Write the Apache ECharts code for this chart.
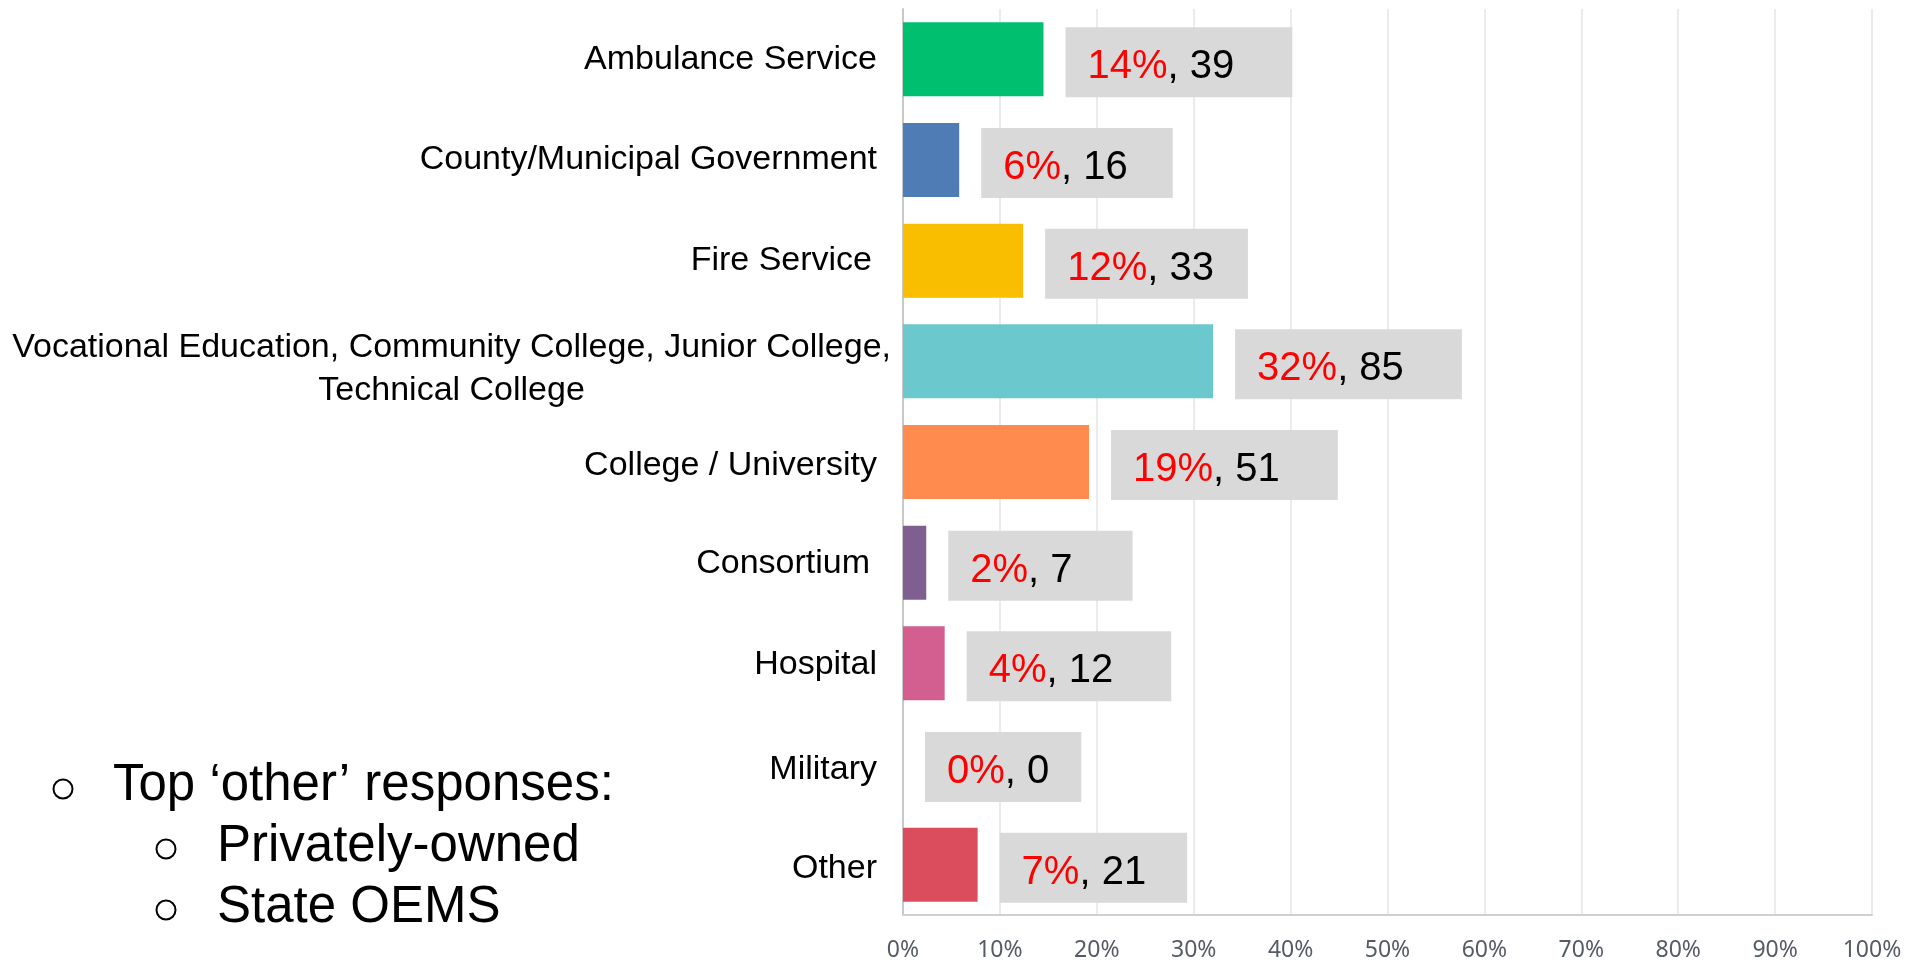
<!DOCTYPE html>
<html>
<head>
<meta charset="utf-8">
<script src="https://cdn.jsdelivr.net/npm/echarts@6/dist/echarts.min.js"></script>
<style>
  html, body { margin: 0; padding: 0; background: #fff; }
  #chart { width: 1914px; height: 962px; }
</style>
</head>
<body>
<div id="chart"></div>
<script>
// data
const categories = [
  "Ambulance Service",
  "County/Municipal Government",
  "Fire Service",
  "Vocational Education, Community College, Junior College,\nTechnical College",
  "College / University",
  "Consortium",
  "Hospital",
  "Military",
  "Other"
];
const shares = [14.5, 5.8, 12.4, 32.0, 19.2, 2.4, 4.3, 0, 7.7]; // bar length, %
const pctLabels = ["14%", "6%", "12%", "32%", "19%", "2%", "4%", "0%", "7%"];
const counts = [39, 16, 33, 85, 51, 7, 12, 0, 21];
const otherTitle = "Top \u2018other\u2019 responses:";
const otherResponses = ["Privately-owned", "State OEMS"];

const barColors = ["#00bf6f", "#507cb6", "#f9be00", "#6bc8cd", "#ff8b4f", "#7f5f90", "#d25f90", "#a6a6a6", "#db4d5c"];
// grey boxes are not all the same width
const boxPadRight = [58, 45, 34, 58, 58, 60, 58, 32, 41];
// small nudges of the category labels, [top, right]
const labelNudge = [[0, 0], [0, 0], [0, 5], [16, -14], [8, 0], [2, 7], [2, 0], [12, 0], [8, 0]];

const FONT = '"Liberation Sans", Arial, sans-serif';

const chart = echarts.init(document.getElementById("chart"));

const bulletGraphics = [
  { type: "circle", shape: { cx: 63, cy: 789, r: 9.5 }, style: { fill: "none", stroke: "#000", lineWidth: 2 } },
  {
    type: "text", x: 113, y: 786,
    style: { text: otherTitle, fontSize: 51, fontFamily: FONT, fill: "#000", verticalAlign: "middle" }
  }
];
otherResponses.forEach(function (t, i) {
  const y = 847 + i * 61;
  bulletGraphics.push({ type: "circle", shape: { cx: 166, cy: y + 2, r: 9.5 }, style: { fill: "none", stroke: "#000", lineWidth: 2 } });
  bulletGraphics.push({
    type: "text", x: 217, y: y,
    style: { text: t, fontSize: 51, fontFamily: FONT, fill: "#000", verticalAlign: "middle" }
  });
});

chart.setOption({
  backgroundColor: "#fff",
  animation: false,
  grid: {
    left: 903,
    right: 42,
    top: 9,
    bottom: 44
  },
  xAxis: {
    type: "value",
    min: 0,
    max: 100,
    interval: 10,
    axisLine: { show: true, lineStyle: { color: "#d0d0d0", width: 2 } },
    axisTick: { show: false },
    splitLine: { show: true, lineStyle: { color: "#ebebeb", width: 2 } },
    axisLabel: {
      formatter: "{value}%",
      color: "#555b66",
      fontSize: 23,
      fontFamily: "Noto Sans",
      margin: 24
    }
  },
  yAxis: {
    type: "category",
    inverse: true,
    data: categories.map(function (c, i) {
      const n = labelNudge[i];
      return { value: c, textStyle: { padding: [n[0], Math.max(n[1], 0), 0, 0] } };
    }),
    axisLine: { show: true, lineStyle: { color: "#c8c8c8", width: 2 } },
    axisTick: { show: false },
    axisLabel: {
      margin: 12,
      lineHeight: 43,
      formatter: function (v) {
        if (v.indexOf("\n") >= 0) {
          return v.split("\n").map(function (l) { return "{c|" + l + "}"; }).join("\n");
        }
        return "{r|" + v + "}";
      },
      rich: {
        r: { fontSize: 34, fontFamily: FONT, color: "#000", padding: [0, 14, 0, 0] },
        c: { fontSize: 34, fontFamily: FONT, color: "#000", align: "center", lineHeight: 43 }
      }
    }
  },
  series: [
    {
      type: "bar",
      barWidth: 74,
      data: shares.map(function (v, i) {
        return {
          value: v,
          itemStyle: { color: barColors[i] },
          label: { padding: [20, boxPadRight[i], 10, 22] }
        };
      }),
      label: {
        show: true,
        position: "right",
        distance: 22,
        offset: [0, 3],
        backgroundColor: "#d9d9d9",
        formatter: function (p) {
          return "{p|" + pctLabels[p.dataIndex] + "}{n|, " + counts[p.dataIndex] + "}";
        },
        rich: {
          p: { color: "#ff0000", fontSize: 40, fontFamily: FONT, lineHeight: 40 },
          n: { color: "#000", fontSize: 40, fontFamily: FONT, lineHeight: 40 }
        }
      }
    }
  ],
  graphic: bulletGraphics
});
</script>
</body>
</html>
